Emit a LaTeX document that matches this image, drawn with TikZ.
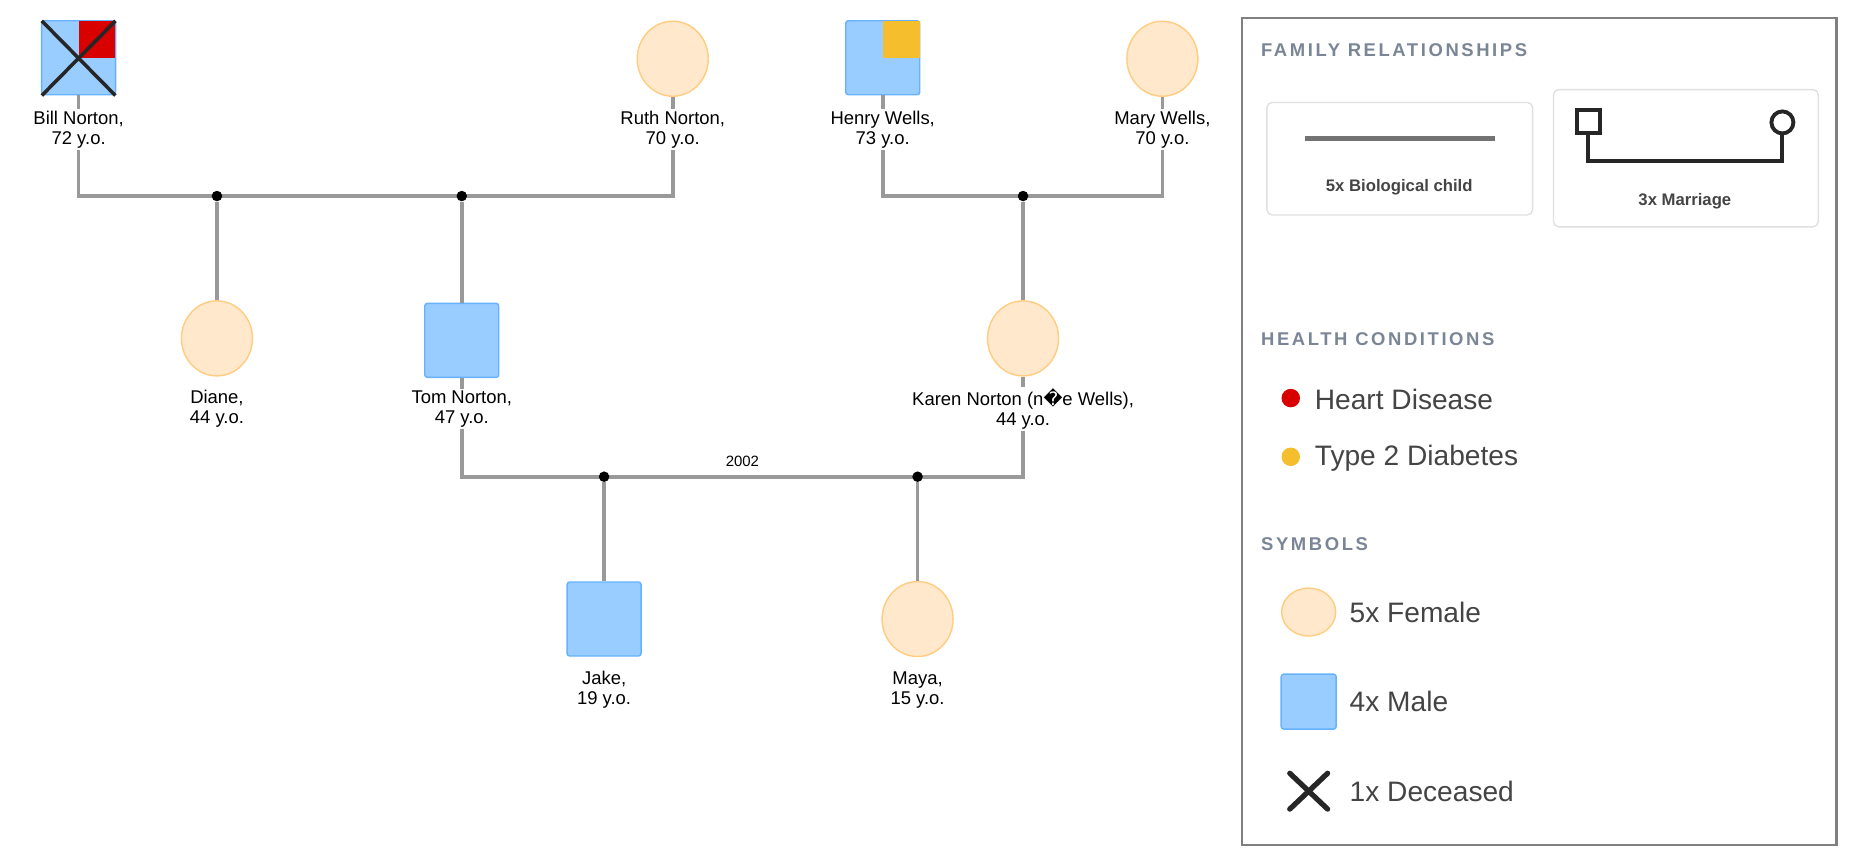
\documentclass[tikz,border=0pt]{standalone}
\usepackage{fontspec}
\usetikzlibrary{shapes.geometric}
\setmainfont{Liberation Sans}
\newfontfamily\dejavu{DejaVu Sans}
\begin{document}
\definecolor{male}{HTML}{99CCFF}
\definecolor{maleb}{HTML}{66B2FF}
\definecolor{fem}{HTML}{FFE8CC}
\definecolor{femb}{HTML}{FFCC80}
\definecolor{lnk}{HTML}{999999}
\definecolor{head}{HTML}{7A8595}
\definecolor{txt}{HTML}{444444}
\definecolor{hred}{HTML}{D90000}
\definecolor{hyel}{HTML}{F5BE2D}
\begin{tikzpicture}[x=0.0199cm,y=-0.0199cm,
  male/.style={draw=maleb,fill=male,minimum size=1.48cm,rounded corners=1.5pt,line width=0.8pt,inner sep=0},
  female/.style={draw=femb,fill=fem,ellipse,minimum width=1.42cm,minimum height=1.5cm,line width=0.8pt,inner sep=0},
  lbl/.style={fill=white,inner sep=1pt,align=center,font=\fontsize{10.5}{11.5}\selectfont},
  link/.style={draw=lnk,line width=2.1pt},
  dot/.style={circle,fill=black,inner sep=0,minimum size=6pt},
  hd/.style={anchor=west,text=head,font=\bfseries\fontsize{10.5}{12}\selectfont\addfontfeature{LetterSpace=14}},
  leg/.style={anchor=west,text=txt,font=\fontsize{16}{18}\selectfont},
  lbox/.style={draw=black!12,line width=0.8pt,rounded corners=3pt},
  btxt/.style={text=txt,font=\bfseries\fontsize{9.5}{11}\selectfont}]
\useasboundingbox (0,0) rectangle (1872,866);
% persons
\node[male] (bill) at (79,58) {};
\fill[hred] (79,21) rectangle (116,58);
\draw[line width=2pt,black!85] (42,21) -- (116,96) (116,21) -- (42,96);
\node[female] (ruth) at (676,59) {};
\node[male] (henry) at (887,58) {};
\fill[hyel] (887,21) rectangle (924,58);
\node[female] (mary) at (1168,59) {};
\node[female] (diane) at (218,340) {};
\node[male] (tom) at (464,342) {};
\node[female] (karen) at (1028,340) {};
\node[male] (jake) at (607,622) {};
\node[female] (maya) at (922,622) {};
% marriage lines
\coordinate (m1l) at (79,197); \coordinate (m1r) at (676,197);
\coordinate (m2l) at (887,197); \coordinate (m2r) at (1168,197);
\coordinate (m3l) at (464,479); \coordinate (m3r) at (1028,479);
\draw[link] (bill.south) -- (m1l) -- (m1r) -- (ruth.south);
\draw[link] (henry.south) -- (m2l) -- (m2r) -- (mary.south);
\draw[link] (tom.south) -- (m3l) -- (m3r) -- (karen.south);
\node[dot] (d1) at (218,197) {};
\node[dot] (d2) at (464,197) {};
\node[dot] (d3) at (1028,197) {};
\node[dot] (d4) at (607,479) {};
\node[dot] (d5) at (922,479) {};
\draw[link] (d1) -- (diane.north);
\draw[link] (d2) -- (tom.north);
\draw[link] (d3) -- (karen.north);
\draw[link] (d4) -- (jake.north);
\draw[link] (d5) -- (maya.north);
\node[font=\fontsize{8.5}{10}\selectfont] (yr) at (746,464) {2002};
% labels
\node[lbl] (lbill) at (79,130) {Bill Norton,\\72 y.o.};
\node[lbl] (lruth) at (676,130) {Ruth Norton,\\70 y.o.};
\node[lbl] (lhenry) at (887,130) {Henry Wells,\\73 y.o.};
\node[lbl] (lmary) at (1168,130) {Mary Wells,\\70 y.o.};
\node[lbl] (ldiane) at (218,411) {Diane,\\44 y.o.};
\node[lbl] (ltom) at (464,411) {Tom Norton,\\47 y.o.};
\node[lbl] (lkaren) at (1028,411) {Karen Norton (n{\dejavu �}e Wells),\\44 y.o.};
\node[lbl] (ljake) at (607,693) {Jake,\\19 y.o.};
\node[lbl] (lmaya) at (922,693) {Maya,\\15 y.o.};
% legend
\draw[draw=black!50,line width=1.6pt] (1248,18) rectangle (1845,849);
\node[hd] (h1) at (1261,50) {FAMILY RELATIONSHIPS};
\draw[lbox] (1273,103) rectangle (1540,216);
\draw[draw=black!55,line width=3pt] (1311,139) -- (1502,139);
\node[btxt] (t1) at (1406,188) {5x Biological child};
\draw[lbox] (1561,90) rectangle (1827,228);
\node[draw=black!85,line width=2.2pt,minimum size=0.46cm,inner sep=0] (ms) at (1596,122) {};
\node[draw=black!85,line width=2.2pt,circle,minimum size=0.44cm,inner sep=0] (mc) at (1791,123) {};
\draw[black!85,line width=2.2pt] (ms.south) -- (1596,162) -- (1791,162) -- (mc.south);
\node[btxt] (t2) at (1693,202) {3x Marriage};
\node[hd] (h2) at (1261,341) {HEALTH CONDITIONS};
\node[circle,fill=hred,minimum size=0.37cm,inner sep=0] (rd) at (1297,400) {};
\node[leg] (thd) at (1315,401) {Heart Disease};
\node[circle,fill=hyel,minimum size=0.37cm,inner sep=0] (yd) at (1297,459) {};
\node[leg] (tdb) at (1315,460) {Type 2 Diabetes};
\node[hd] (h3) at (1261,547) {SYMBOLS};
\node[female,minimum width=1.08cm,minimum height=0.96cm] (lf) at (1315,615) {};
\node[leg] (tf) at (1350,615) {5x Female};
\node[male,minimum size=1.1cm] (lm) at (1315,705) {};
\node[leg] (tm) at (1350,705) {4x Male};
\draw[black!85,line width=3pt,line cap=round] (1296,777) -- (1334,813) (1334,777) -- (1296,813);
\node[leg] (td) at (1350,795) {1x Deceased};
\end{tikzpicture}
\end{document}
